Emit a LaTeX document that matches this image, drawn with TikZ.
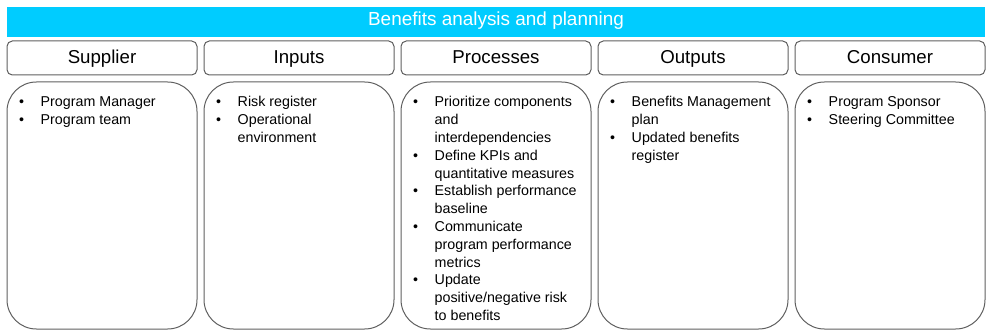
\documentclass[tikz,border=0pt]{standalone}
\usepackage{fontspec}
\setmainfont{Liberation Sans}
\usepackage{xcolor}
\definecolor{BannerCyan}{HTML}{00CCFF}
\definecolor{EdgeGray}{HTML}{5F5F5F}
\usetikzlibrary{positioning}
\newcommand{\bul}{\rule{0pt}{8.5pt}\makebox[16.3pt][l]{\textbullet}}
\newcommand{\cont}{\hspace*{16.3pt}}

\begin{document}
\begin{tikzpicture}[x=0.75pt, y=-0.75pt, node distance=5.25pt, every node/.style={inner sep=0pt, outer sep=0pt}, banner/.style={fill=BannerCyan, text=white, minimum width=733.5pt, minimum height=22.5pt, text height=10.2pt, text depth=5pt, font=\fontsize{14.2}{17}\selectfont}, head/.style={draw=EdgeGray, line width=0.75pt, rounded corners=4pt, minimum width=142.5pt, minimum height=25.5pt, text height=10pt, text depth=1pt, font=\fontsize{14}{17}\selectfont}, body/.style={draw=EdgeGray, line width=0.75pt, rounded corners=22pt, minimum width=142.5pt, minimum height=185.25pt}, items/.style={anchor=north west, align=left, font=\fontsize{10.7}{13.35}\selectfont}]
        \useasboundingbox (0,0) rectangle (993,335);
        \node[banner] (title) at (496,22) {Benefits analysis and planning};

        \node[head, below right=3pt and 0pt of title.south west, anchor=north west] (supplier) {Supplier};
        \node[head, right=of supplier] (inputs) {Inputs};
        \node[head, right=of inputs] (processes) {Processes};
        \node[head, right=of processes] (outputs) {Outputs};
        \node[head, right=of outputs] (consumer) {Consumer};

        \node[body, below=of supplier] (supplierBody) {};
        \node[body, below=of inputs] (inputsBody) {};
        \node[body, below=of processes] (processesBody) {};
        \node[body, below=of outputs] (outputsBody) {};
        \node[body, below=of consumer] (consumerBody) {};

        \node[items] (supplierList) at ([shift={(12,13.5)}]supplierBody.north west) {\bul Program Manager\\ \bul Program team};
        \node[items] (inputsList) at ([shift={(12,13.5)}]inputsBody.north west) {\bul Risk register\\ \bul Operational\\ \cont environment};
        \node[items] (processesList) at ([shift={(12,13.5)}]processesBody.north west) {\bul Prioritize components\\ \cont and\\ \cont interdependencies\\ \bul Define KPIs and\\ \cont quantitative measures\\ \bul Establish performance\\ \cont baseline\\ \bul Communicate\\ \cont program performance\\ \cont metrics\\ \bul Update\\ \cont positive/negative risk\\ \cont to benefits};
        \node[items] (outputsList) at ([shift={(12,13.5)}]outputsBody.north west) {\bul Benefits Management\\ \cont plan\\ \bul Updated benefits\\ \cont register};
        \node[items] (consumerList) at ([shift={(12,13.5)}]consumerBody.north west) {\bul Program Sponsor\\ \bul Steering Committee};
    \end{tikzpicture}
\end{document}
